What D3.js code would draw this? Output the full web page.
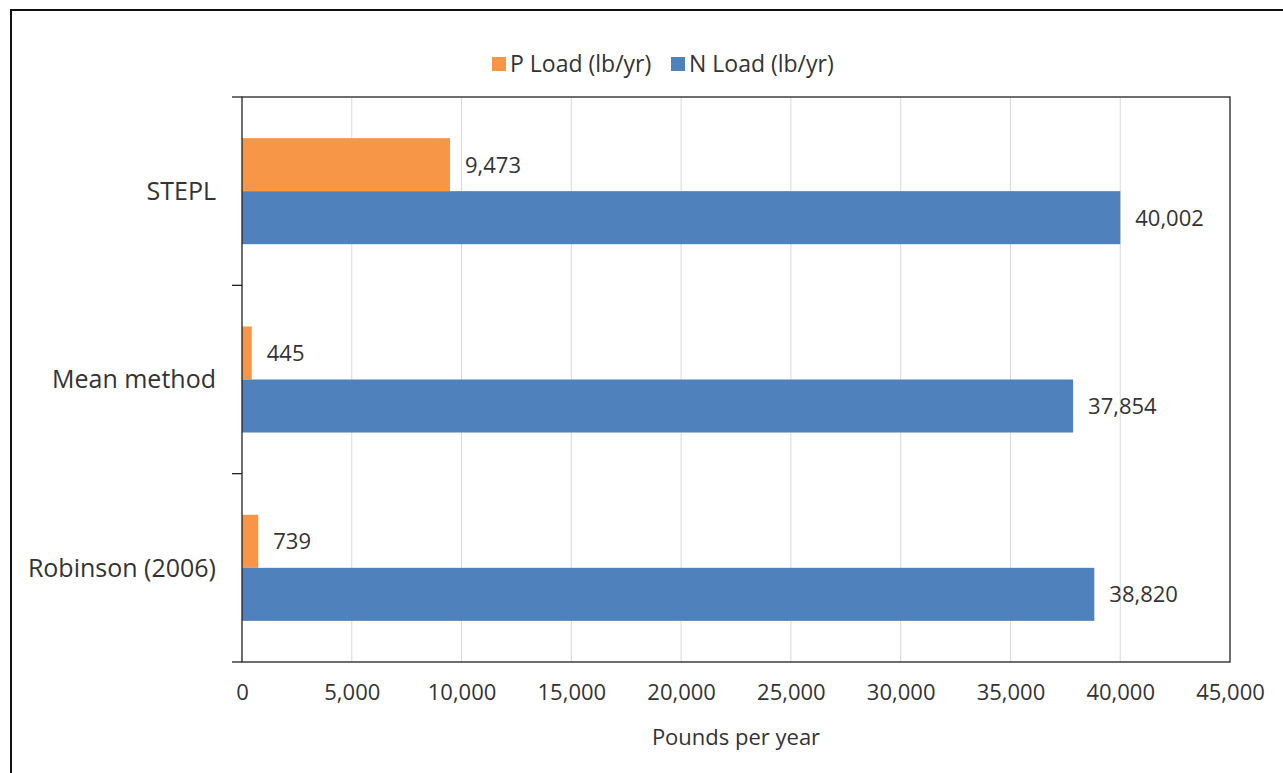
<!DOCTYPE html>
<html>
<head>
<meta charset="utf-8">
<script src="https://cdn.jsdelivr.net/npm/d3@7/dist/d3.min.js"></script>
<style>
  html, body { margin: 0; padding: 0; background: #fff; }
  svg { display: block; }
  text { font-family: "Open Sans", sans-serif; fill: #333; }
</style>
</head>
<body>
<svg id="chart" width="1283" height="773"></svg>
<script>
const categories = ["STEPL", "Mean method", "Robinson (2006)"];
const seriesNames = ["P Load (lb/yr)", "N Load (lb/yr)"];
const pLoad = [9473, 445, 739];
const nLoad = [40002, 37854, 38820];
const xTicks = [0, 5000, 10000, 15000, 20000, 25000, 30000, 35000, 40000, 45000];
const xTitle = "Pounds per year";
const colors = ["#F79646", "#4F81BD"];

(function () {
const svg = d3.select("#chart");
const W = 1283, H = 773;
const pL = 242, pR = 1230, pT = 97, pB = 662;

svg.append("rect").attr("width", W).attr("height", H).attr("fill", "#fff");
// outer frame
svg.append("rect").attr("x", 11).attr("y", 10).attr("width", 1300).attr("height", 800)
  .attr("fill", "none").attr("stroke", "#111").attr("stroke-width", 2);

const x = d3.scaleLinear().domain([0, 45000]).range([pL, pR]);
const y = d3.scaleBand().domain(categories).range([pT, pB])
  .paddingInner(0.437).paddingOuter(0.2185);
const ys = d3.scaleBand().domain(seriesNames).range([0, y.bandwidth()]);

// gridlines
svg.append("g").selectAll("line").data(xTicks.filter(t => t > 0 && t < 45000)).join("line")
  .attr("x1", d => x(d)).attr("x2", d => x(d))
  .attr("y1", pT).attr("y2", pB)
  .attr("stroke", "#D9D9D9").attr("stroke-width", 1);

// bars
const data = categories.map((c, i) => ({ cat: c, vals: [pLoad[i], nLoad[i]] }));
const groups = svg.append("g").selectAll("g").data(data).join("g")
  .attr("transform", d => `translate(0,${y(d.cat)})`);
groups.selectAll("rect").data(d => d.vals.map((v, j) => ({ v, s: seriesNames[j], j }))).join("rect")
  .attr("x", x(0)).attr("y", d => ys(d.s))
  .attr("width", d => x(d.v) - x(0)).attr("height", ys.bandwidth())
  .attr("fill", d => colors[d.j]);
groups.selectAll("text").data(d => d.vals.map((v, j) => ({ v, s: seriesNames[j], j }))).join("text")
  .attr("x", d => x(d.v) + 15).attr("y", d => ys(d.s) + ys.bandwidth() / 2)
  .attr("dy", "0.36em").attr("font-size", 22)
  .text(d => d3.format(",")(d.v));

// plot border
svg.append("rect").attr("x", pL).attr("y", pT).attr("width", pR - pL).attr("height", pB - pT)
  .attr("fill", "none").attr("stroke", "#222").attr("stroke-width", 1.3);

// category separator ticks
const seps = [pT, ...categories.map(c => y(c) - y.step() * y.paddingInner() / 2 + y.step())];
svg.append("g").selectAll("line").data(seps).join("line")
  .attr("x1", pL - 10).attr("x2", pL)
  .attr("y1", d => d).attr("y2", d => d)
  .attr("stroke", "#222").attr("stroke-width", 1.3);

// category labels
svg.append("g").selectAll("text").data(categories).join("text")
  .attr("x", 216).attr("y", d => y(d) + y.bandwidth() / 2)
  .attr("dy", "0.35em").attr("text-anchor", "end").attr("font-size", 25)
  .text(d => d);

// x axis labels
const xAxis = d3.axisBottom(x).tickValues(xTicks).tickFormat(d3.format(",")).tickSize(0).tickPadding(22);
const gx = svg.append("g").attr("transform", `translate(0,${pB})`).call(xAxis);
gx.select(".domain").remove();
gx.selectAll("text").attr("font-size", 22).attr("font-family", "Open Sans, sans-serif").attr("fill", "#333");

// axis title
svg.append("text").attr("x", (pL + pR) / 2).attr("y", 745)
  .attr("text-anchor", "middle").attr("font-size", 22).text(xTitle);

// legend
const legend = svg.append("g");
const legX = [492, 671];
seriesNames.forEach((s, i) => {
  legend.append("rect").attr("x", legX[i]).attr("y", 57).attr("width", 14).attr("height", 14).attr("fill", colors[i]);
  legend.append("text").attr("x", legX[i] + 18).attr("y", 64).attr("dy", "0.35em")
    .attr("font-size", 23).text(s);
});
})();
</script>
</body>
</html>
